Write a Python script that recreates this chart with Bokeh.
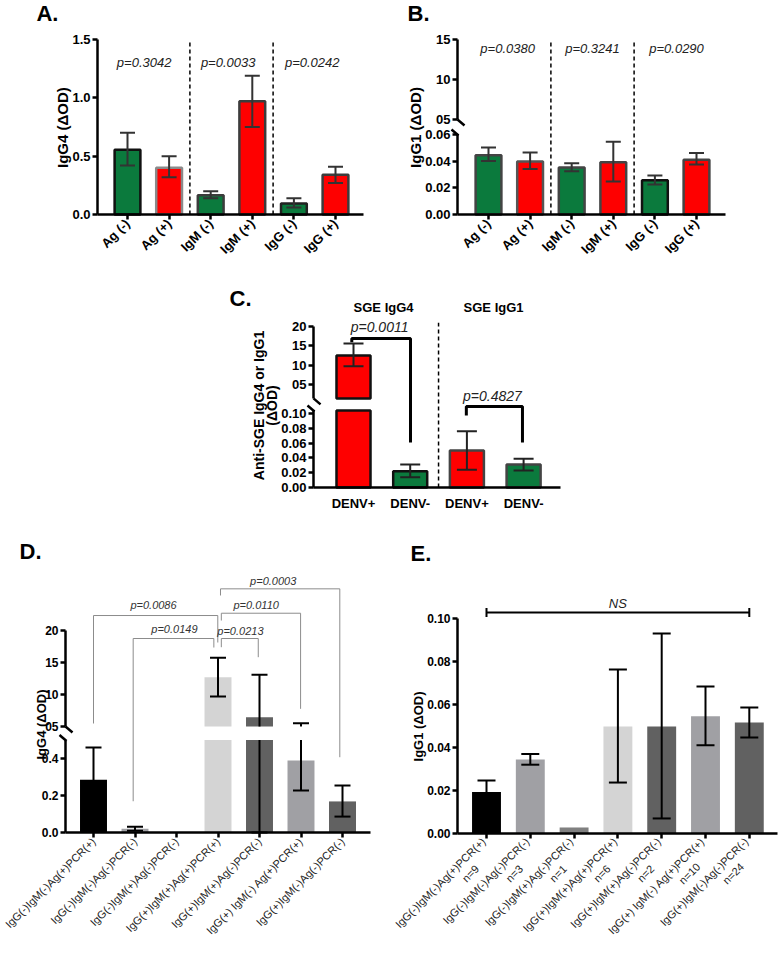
import math
from bokeh.plotting import figure
from bokeh.models import (Range1d, LinearAxis, FixedTicker, PrintfTickFormatter,
                          Label, Arrow, Spacer)
from bokeh.layouts import column, row
from bokeh.core.properties import value
from bokeh.embed import file_html
from bokeh.resources import INLINE

FONT = "Liberation Sans"
GREEN = "#0b7a3d"
RED = "#fe0000"

# ---------------- data ----------------
ab_categories = ["Ag (-)", "Ag (+)", "IgM (-)", "IgM (+)", "IgG (-)", "IgG (+)"]
ab_colors = [GREEN, RED, GREEN, RED, GREEN, RED]

a_mean = [0.555, 0.40, 0.165, 0.97, 0.095, 0.34]
a_low = [0.42, 0.32, 0.14, 0.75, 0.06, 0.27]
a_high = [0.70, 0.50, 0.20, 1.19, 0.14, 0.41]
a_pvalues = ["p=0.3042", "p=0.0033", "p=0.0242"]

b_mean = [0.0445, 0.0397, 0.0352, 0.0392, 0.0257, 0.0410]
b_low = [0.0402, 0.0342, 0.0325, 0.0248, 0.0225, 0.0375]
b_high = [0.0502, 0.0465, 0.0385, 0.0545, 0.0293, 0.0462]
b_pvalues = ["p=0.0380", "p=0.3241", "p=0.0290"]

c_categories = ["DENV+", "DENV-", "DENV+", "DENV-"]
c_groups = ["SGE IgG4", "SGE IgG1"]
c_mean = [12.5, 0.022, 0.050, 0.031]
c_low = [9.7, 0.014, 0.024, 0.023]
c_high = [15.6, 0.031, 0.076, 0.039]
c_colors = [RED, GREEN, RED, GREEN]
c_pvalues = ["p=0.0011", "p=0.4827"]

de_categories = ["IgG(-)IgM(-)Ag(+)PCR(+)", "IgG(-)IgM(-)Ag(-)PCR(-)",
                 "IgG(-)IgM(+)Ag(-)PCR(-)", "IgG(+)IgM(+)Ag(+)PCR(+)",
                 "IgG(+)IgM(+)Ag(-)PCR(-)", "IgG(+) IgM(-) Ag(+)PCR(+)",
                 "IgG(+)IgM(-)Ag(-)PCR(-)"]
e_counts = [9, 3, 1, 6, 2, 10, 24]
de_colors = ["#000000", "#a0a0a4", "#808080", "#d4d4d4", "#616161", "#a0a0a4", "#616161"]

d_mean = [0.285, 0.02, 0.0, 12.7, 6.45, 0.389, 0.168]
d_low = [0.11, 0.01, None, 9.7, 0.0, 0.227, 0.086]
d_high = [0.46, 0.031, None, 15.75, 13.1, 5.5, 0.254]
d_pvalues = ["p=0.0086", "p=0.0149", "p=0.0213", "p=0.0110", "p=0.0003"]

e_mean = [0.0193, 0.0344, 0.0028, 0.0498, 0.0498, 0.0545, 0.0516]
e_low = [0.0145, 0.0320, None, 0.0237, 0.0070, 0.0410, 0.0447]
e_high = [0.0247, 0.0370, None, 0.0763, 0.0930, 0.0684, 0.0586]
e_test = "NS"

# bracket annotations for panel D: (left x, right x, height, left end, right end, text x, text y)
D_BRACKETS = [
    (0.0, 2.995, 22.34, ("up", 5.47), ("up", 18.125), 1.446, 24.06),
    (0.956, 2.9, 18.75, ("lo", 0.169), ("up", 17.34), 1.95, 20.16),
    (3.08, 3.97, 18.75, ("up", 17.39), ("up", 15.83), 3.54, 20.0),
    (3.08, 4.99, 22.7, ("up", 21.56), ("up", 7.76), 3.92, 24.0),
    (3.06, 5.935, 26.51, ("up", 25.47), ("lo", 0.407), 4.33, 27.81),
]


# ---------------- helpers ----------------
class Panel:
    """A figure whose frame fills the whole canvas; axes are placed at fixed locations."""

    def __init__(self, ox, oy, w, h, x0, sp, ly0, lppu, axis_px, right_px, up=None):
        self.sp, self.lppu = sp, lppu
        xr = ((ox - x0) / sp, (ox + w - x0) / sp)
        yr = ((ly0 - (oy + h)) / lppu, (ly0 - oy) / lppu)
        p = figure(width=w, height=h, x_range=Range1d(*xr), y_range=Range1d(*yr),
                   output_backend="svg", toolbar_location=None, tools="",
                   x_axis_location=None, y_axis_location=None,
                   min_border=0, min_border_left=0, min_border_right=0,
                   min_border_top=0, min_border_bottom=0, title=None)
        p.xgrid.visible = False
        p.ygrid.visible = False
        p.outline_line_color = None
        p.background_fill_color = "white"
        p.border_fill_color = "white"
        self.uppu = None
        self.ur = None
        if up is not None:
            ref_px, ref_val, uppu = up
            self.uppu = uppu
            self.ur = (ref_val + (ref_px - (oy + h)) / uppu, ref_val + (ref_px - oy) / uppu)
            p.extra_y_ranges = {"up": Range1d(*self.ur)}
        self.p, self.xr, self.yr = p, xr, yr
        self.ax_x = (axis_px - x0) / sp
        self.right_x = (right_px - x0) / sp

    def px_x(self, n):
        return n / self.sp

    def px_y(self, n, rng="default"):
        return n / (self.uppu if rng == "up" else self.lppu)

    def to_up(self, v):
        return self.ur[0] + (v - self.yr[0]) * (self.ur[1] - self.ur[0]) / (self.yr[1] - self.yr[0])


def rkw(rng):
    return {} if rng == "default" else {"y_range_name": rng}


def style_axis(ax, size, bold=True, tick_out=5, standoff=2, color="black"):
    ax.axis_line_width = 2.5
    ax.axis_line_color = "black"
    ax.major_tick_line_width = 2.5
    ax.major_tick_line_color = "black"
    ax.major_tick_out = tick_out
    ax.major_tick_in = 0
    ax.minor_tick_line_color = None
    ax.major_label_text_font = FONT
    ax.major_label_text_font_size = size
    ax.major_label_text_font_style = "bold" if bold else "normal"
    ax.major_label_text_color = color
    ax.major_label_standoff = standoff


def add_x(panel, labels, size, bold, orientation, tick_out=5, standoff=2, color="black"):
    ax = LinearAxis(fixed_location=0, bounds=(panel.ax_x, panel.right_x))
    style_axis(ax, size, bold, tick_out, standoff, color)
    ax.ticker = FixedTicker(ticks=list(range(len(labels))))
    ax.major_label_overrides = {i: t for i, t in enumerate(labels)}
    ax.major_label_orientation = orientation
    panel.p.add_layout(ax, "below")
    return ax


def add_y(panel, ticks, fmt, bounds, size="13px", rng="default"):
    ax = LinearAxis(fixed_location=panel.ax_x, bounds=bounds, **rkw(rng))
    style_axis(ax, size)
    ax.ticker = FixedTicker(ticks=ticks)
    ax.formatter = PrintfTickFormatter(format=fmt)
    panel.p.add_layout(ax, "left")


def bars(panel, xs, means, width, colors, edges=None, lw=0, lt=None, ub=None):
    p = panel.p
    tops = [m if lt is None else min(m, lt) for m in means]
    p.vbar(x=xs, top=tops, bottom=0, width=width, fill_color=colors,
           line_color=edges, line_width=lw)
    if ub is not None:
        idx = [i for i, m in enumerate(means) if m > ub]
        if idx:
            p.vbar(x=[xs[i] for i in idx], top=[means[i] for i in idx], bottom=ub,
                   width=width, fill_color=[colors[i] for i in idx],
                   line_color=[edges[i] for i in idx] if edges is not None else None,
                   line_width=lw, y_range_name="up")


def errors(panel, xs, lows, highs, cap, color, lw, lt=None, ub=None):
    segs = {"default": ([], [], []), "up": ([], [], [])}
    caps = {"default": ([], []), "up": ([], [])}
    for x, a, b in zip(xs, lows, highs):
        if a is None or b is None:
            continue
        if lt is None or b <= lt:
            parts = [("default", a, b, True, True)]
        elif a >= ub:
            parts = [("up", a, b, True, True)]
        else:
            parts = [("default", a, lt, True, False), ("up", ub, b, False, True)]
        for rng, y0, y1, c0, c1 in parts:
            segs[rng][0].append(x)
            segs[rng][1].append(y0)
            segs[rng][2].append(y1)
            if c0:
                caps[rng][0].append(x)
                caps[rng][1].append(y0)
            if c1:
                caps[rng][0].append(x)
                caps[rng][1].append(y1)
    for rng in segs:
        sx, y0s, y1s = segs[rng]
        if sx:
            panel.p.segment(x0=sx, y0=y0s, x1=sx, y1=y1s, line_color=color,
                            line_width=lw, **rkw(rng))
        cx, cy = caps[rng]
        if cx:
            panel.p.scatter(x=cx, y=cy, marker="dash", size=cap, line_color=color,
                            line_width=lw, **rkw(rng))


def ptext(panel, xs, ys, texts, size, rng="default", color="#222222", style="italic"):
    panel.p.text(x=xs, y=ys, text=texts, text_font=value(FONT), text_font_size=size,
                 text_font_style=style, text_align="center", text_baseline="middle",
                 text_color=color, **rkw(rng))


def label(panel, x, y, text, size, style="bold", angle=0.0, rng="default",
          align="center", color="black"):
    panel.p.add_layout(Label(x=x, y=y, text=text, text_font=FONT, text_font_size=size,
                             text_font_style=style, angle=angle, text_align=align,
                             text_baseline="middle", text_color=color, **rkw(rng)))


def breaks(panel, ub, lt):
    x0 = panel.ax_x
    panel.p.add_layout(Arrow(end=None, x_start=x0, y_start=ub,
                             x_end=x0 + panel.px_x(7), y_end=ub - panel.px_y(6, "up"),
                             line_width=2.5, line_color="black", y_range_name="up"))
    panel.p.add_layout(Arrow(end=None, x_start=x0 - panel.px_x(6), y_start=lt + panel.px_y(5),
                             x_end=x0 + panel.px_x(1), y_end=lt - panel.px_y(1),
                             line_width=2.5, line_color="black"))


# ---------------- Panel A ----------------
A = Panel(0, 0, 390, 282, x0=127, sp=41.6, ly0=214, lppu=116.67, axis_px=97, right_px=363)
xs6 = list(range(len(ab_categories)))
bars(A, xs6, a_mean, 0.62, ab_colors,
     edges=["#111111", "#8a8a8a", "#3c3c3c", "#3c3c3c", "#222222", "#3c3c3c"], lw=2.5)
errors(A, xs6, a_low, a_high, cap=15, color="#333333", lw=2)
A.p.segment(x0=[1.5, 3.5], y0=[0, 0], x1=[1.5, 3.5], y1=[1.5, 1.5], line_dash="4 3",
            line_width=1.5, line_color="black")
ptext(A, [0.4, 2.42, 4.44], [1.303] * 3, a_pvalues, "13px")
add_x(A, ab_categories, "13px", True, math.pi / 4)
add_y(A, [0, 0.5, 1.0, 1.5], "%.1f", (0, 1.5))
label(A, -1.5625, 0.745, "IgG4 (ΔOD)", "15px", angle=math.pi / 2)
label(A, -2.19, 1.723, "A.", "22px", align="left")

# ---------------- Panel B ----------------
B = Panel(390, 0, 390, 282, x0=488, sp=41.6, ly0=214, lppu=1333.3, axis_px=457, right_px=725,
          up=(39, 15, 8.0))
bars(B, xs6, b_mean, 0.62, ab_colors,
     edges=["#444444", "#555555", "#444444", "#444444", "#111111", "#444444"], lw=2.5)
errors(B, xs6, b_low, b_high, cap=15, color="#333333", lw=2)
B.p.segment(x0=[1.5, 3.5], y0=[B.to_up(0)] * 2, x1=[1.5, 3.5], y1=[15, 15], line_dash="4 3",
            line_width=1.5, line_color="black", y_range_name="up")
ptext(B, [0.46, 2.5, 4.52], [13.875] * 3, b_pvalues, "13px", rng="up")
add_x(B, ab_categories, "13px", True, math.pi / 4)
add_y(B, [0, 0.02, 0.04, 0.06], "%.2f", (0, 0.06))
add_y(B, [5, 10, 15], "%02d", (5, 15), rng="up")
breaks(B, 5, 0.06)
label(B, -1.755, 4.0, "IgG1 (ΔOD)", "15px", angle=math.pi / 2, rng="up")
label(B, -1.947, 18.25, "B.", "22px", align="left", rng="up")

# ---------------- Panel C ----------------
C = Panel(180, 282, 420, 253, x0=353, sp=56.7, ly0=487, lppu=740, axis_px=313, right_px=560,
          up=(326, 20, 3.8667))
xs4 = list(range(len(c_categories)))
c_edges = ["#111111", "#111111", "#444444", "#444444"]
bars(C, xs4, c_mean, 0.6, c_colors, edges=c_edges, lw=2.5, lt=0.104, ub=1.4)
errors(C, xs4, c_low, c_high, cap=20, color="#222222", lw=2, lt=0.104, ub=1.4)
C.p.segment(x0=[1.5], y0=[C.to_up(0)], x1=[1.5], y1=[21.0], line_dash="4 3",
            line_width=1.5, line_color="black", y_range_name="up")
C.p.multi_line(xs=[[-0.03, -0.03, 1.005, 1.005]],
               ys=[[15.9, 16.9, 16.9, C.to_up(0.0608)]],
               line_color="black", line_width=3, y_range_name="up")
C.p.multi_line(xs=[[1.99, 1.99, 2.98, 2.98]], ys=[[0.0973, 0.1095, 0.1095, 0.0608]],
               line_color="black", line_width=3)
ptext(C, [0.46], [20.0], [c_pvalues[0]], "14px", rng="up")
ptext(C, [2.45], [0.1243], [c_pvalues[1]], "14px")
add_x(C, c_categories, "13px", True, "horizontal", tick_out=0, standoff=8)
add_y(C, [0, 0.02, 0.04, 0.06, 0.08, 0.10], "%.2f", (0, 0.104))
add_y(C, [5, 10, 15, 20], "%02d", (1.4, 20), rng="up")
breaks(C, 1.4, 0.104)
label(C, 0.53, 24.91, c_groups[0], "13px", rng="up")
label(C, 2.47, 24.91, c_groups[1], "13px", rng="up")
label(C, -1.675, -0.431, "Anti-SGE IgG4 or IgG1", "14px", angle=math.pi / 2, rng="up")
label(C, -1.4286, -0.431, "(ΔOD)", "14px", angle=math.pi / 2, rng="up")
label(C, -2.187, 27.24, "C.", "22px", align="left", rng="up")

# ---------------- Panel D ----------------
D = Panel(0, 535, 390, 415, x0=93, sp=41.5, ly0=832, lppu=185, axis_px=65, right_px=370,
          up=(726, 5, 6.4))
xs7 = list(range(len(de_categories)))
bars(D, xs7, d_mean, 0.65, de_colors, lt=0.5, ub=5)
errors(D, xs7, d_low, d_high, cap=16, color="black", lw=2, lt=0.5, ub=5)
b_xs, b_ys = [], []
for (xl, xr_, h, le, re, tx, ty) in D_BRACKETS:
    ly = le[1] if le[0] == "up" else D.to_up(le[1])
    ry = re[1] if re[0] == "up" else D.to_up(re[1])
    b_xs.append([xl, xl, xr_, xr_])
    b_ys.append([ly, h, h, ry])
D.p.multi_line(xs=b_xs, ys=b_ys, line_color="#8c8c8c", line_width=1, y_range_name="up")
ptext(D, [b[5] for b in D_BRACKETS], [b[6] for b in D_BRACKETS], d_pvalues, "11px",
      rng="up", color="#333333")
add_x(D, de_categories, "11px", False, math.pi / 4, color="#222222")
add_y(D, [0, 0.2, 0.4], "%.1f", (0, 0.5), size="12px")
add_y(D, [5, 10, 15, 20], "%02d", (5, 20), size="12px", rng="up")
breaks(D, 5, 0.5)
label(D, -1.25, 5.31, "IgG4 (ΔOD)", "13px", angle=math.pi / 2, rng="up")
label(D, -1.783, 32.42, "D.", "22px", align="left", rng="up")

# ---------------- Panel E ----------------
E = Panel(390, 535, 388, 415, x0=486, sp=43.8, ly0=833, lppu=2150, axis_px=457, right_px=777)
bars(E, xs7, e_mean, 0.66, de_colors)
errors(E, xs7, e_low, e_high, cap=18, color="black", lw=2)
E.p.segment(x0=[0, 0, 6], y0=[0.1028, 0.1007, 0.1007], x1=[6, 0, 6],
            y1=[0.1028, 0.1049, 0.1049], line_color="black", line_width=2)
ptext(E, [3.0], [0.107], [e_test], "13px")
ex = add_x(E, de_categories, "11px", False, math.pi / 4, color="#222222")
ex.major_label_text_color = None   # two-line labels are drawn below as Labels
for i, (cat, n) in enumerate(zip(de_categories, e_counts)):
    label(E, i - E.px_x(3), -E.px_y(6), cat, "11px", style="normal",
          angle=math.pi / 4, align="right", color="#222222")
    label(E, i - E.px_x(16), -E.px_y(40), f"n={n}", "11px", style="normal",
          angle=math.pi / 4, color="#222222")
add_y(E, [0, 0.02, 0.04, 0.06, 0.08, 0.10], "%.2f", (0, 0.1), size="12px")
label(E, -1.5525, 0.0498, "IgG1 (ΔOD)", "13px", angle=math.pi / 2)
label(E, -1.735, 0.1302, "E.", "22px", align="left")

layout = column(row(A.p, B.p),
                row(Spacer(width=180, height=253), C.p),
                row(D.p, E.p))
open("out.html", "w").write(file_html(layout, INLINE))
